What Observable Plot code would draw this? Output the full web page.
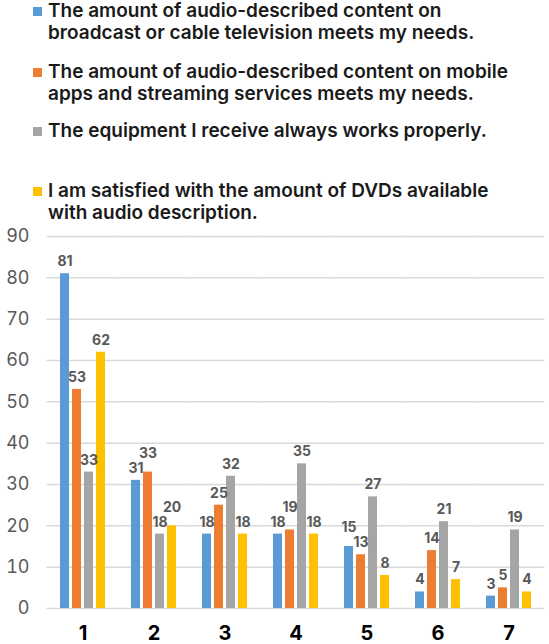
<!DOCTYPE html>
<html>
<head>
<meta charset="utf-8">
<script src="https://cdn.jsdelivr.net/npm/d3@7"></script>
<script src="https://cdn.jsdelivr.net/npm/@observablehq/plot@0.6"></script>
<style>
  html, body { margin: 0; padding: 0; background: #fff; }
  #wrap { width: 549px; height: 644px; position: relative; overflow: hidden; font-family: Inter, Lato, sans-serif; }
  #legend { position: relative; width: 549px; height: 226px; }
  .item { position: absolute; left: 48px; font-size: 19px; line-height: 21.5px; color: #1a1a1a; font-weight: 600; white-space: nowrap; }
  .sw { position: absolute; left: -15px; top: 7px; width: 9px; height: 9px; }
  #chart svg { display: block; }
</style>
</head>
<body>
<div id="wrap">
  <div id="legend"></div>
  <div id="chart"></div>
</div>
<script>
const categories = ["1", "2", "3", "4", "5", "6", "7"];
const seriesNames = [
  "The amount of audio-described content on broadcast or cable television meets my needs.",
  "The amount of audio-described content on mobile apps and streaming services meets my needs.",
  "The equipment I receive always works properly.",
  "I am satisfied with the amount of DVDs available with audio description."
];
const legendLines = [
  ["The amount of audio-described content on", "broadcast or cable television meets my needs."],
  ["The amount of audio-described content on mobile", "apps and streaming services meets my needs."],
  ["The equipment I receive always works properly."],
  ["I am satisfied with the amount of DVDs available", "with audio description."]
];
const broadcastValues = [81, 31, 18, 18, 15, 4, 3];
const streamingValues = [53, 33, 25, 19, 13, 14, 5];
const equipmentValues = [33, 18, 32, 35, 27, 21, 19];
const dvdValues = [62, 20, 18, 18, 8, 7, 4];
const seriesColors = ["#5B9BD5", "#ED7D31", "#A5A5A5", "#FFC000"];
const yTicks = [0, 10, 20, 30, 40, 50, 60, 70, 80, 90];

const allValues = [broadcastValues, streamingValues, equipmentValues, dvdValues];
const rows = [];
categories.forEach((c, i) => {
  const group = seriesNames.map((s, j) => ({cat: c, series: s, value: allValues[j][i], labelY: allValues[j][i]}));
  // simple collision avoidance for neighbouring two-digit labels (in data units)
  const minGap = 3.6;
  for (let j = 1; j < group.length; j++) {
    const a = group[j - 1], b = group[j];
    if (String(a.value).length > 1 && String(b.value).length > 1 && Math.abs(a.labelY - b.labelY) < minGap) {
      if (b.labelY >= a.labelY) b.labelY = a.labelY + minGap;
      else a.labelY = b.labelY + minGap;
    }
  }
  rows.push(...group);
});

// Legend (HTML, above the SVG)
const legendTops = [0, 61, 120, 180];
const legend = document.getElementById("legend");
legendLines.forEach((lines, j) => {
  const div = document.createElement("div");
  div.className = "item";
  div.style.top = legendTops[j] + "px";
  const sw = document.createElement("span");
  sw.className = "sw";
  sw.style.background = seriesColors[j];
  div.appendChild(sw);
  div.appendChild(document.createTextNode(lines[0]));
  for (let k = 1; k < lines.length; k++) {
    div.appendChild(document.createElement("br"));
    div.appendChild(document.createTextNode(lines[k]));
  }
  legend.appendChild(div);
});

const chart = Plot.plot({
  width: 549,
  height: 418,
  marginTop: 10,
  marginBottom: 36,
  marginLeft: 45,
  marginRight: 3,
  style: {fontFamily: "Inter, Lato, sans-serif", background: "white", overflow: "visible"},
  fx: {domain: categories, padding: 0, label: null, axis: null},
  x: {domain: seriesNames, axis: null, paddingInner: 0.25, paddingOuter: 0.9},
  y: {domain: [0, 90], axis: null},
  color: {domain: seriesNames, range: seriesColors},
  marks: [
    Plot.ruleY(yTicks, {y: d => d, stroke: "#d9d9d9", strokeWidth: 1.5, insetLeft: -0.5, insetRight: -0.5}),
    Plot.axisY({ticks: yTicks, tickSize: 0, tickPadding: 18, fontSize: 18, color: "#595959", label: null}),
    Plot.barY(rows, {fx: "cat", x: "series", y: "value", fill: "series"}),
    Plot.text(rows, {fx: "cat", x: "series", y: "labelY", text: d => String(d.value), dy: -12, fontSize: 14, fontWeight: "bold", fill: "#595959"}),
    Plot.axisFx({anchor: "bottom", tickSize: 0, tickPadding: 17, fontSize: 20, fontWeight: "bold", color: "black", label: null})
  ]
});
document.getElementById("chart").appendChild(chart);
</script>
</body>
</html>
